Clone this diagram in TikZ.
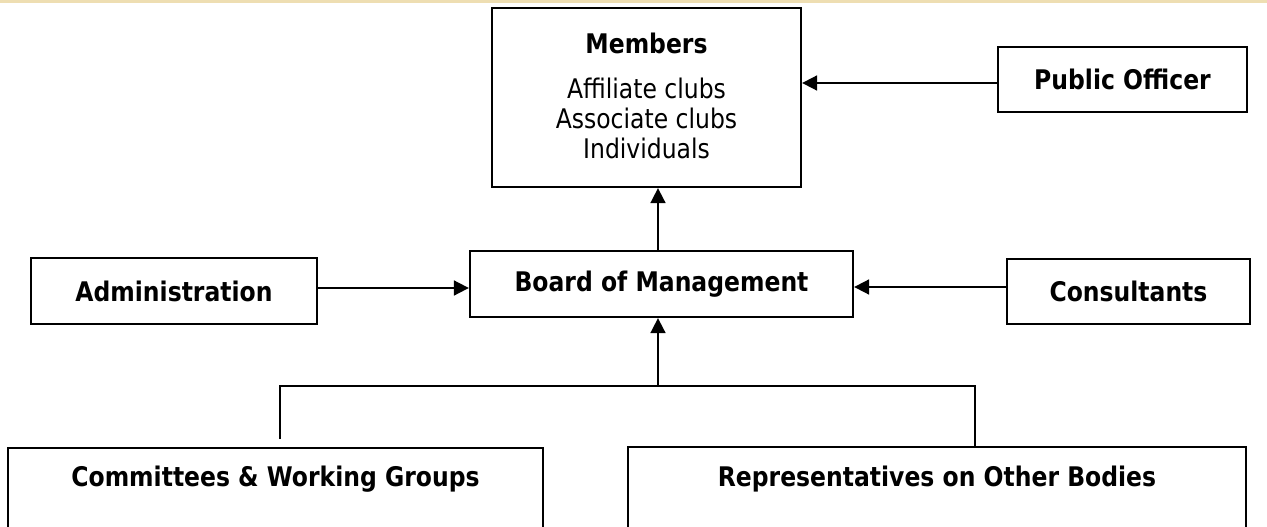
\documentclass[tikz,border=0pt]{standalone}
\usepackage{fontspec}
\setmainfont{DejaVu Sans}[FakeStretch=0.87]
\usetikzlibrary{arrows.meta}
\definecolor{topline}{RGB}{238,222,178}
\tikzset{
  box/.style={draw=black, line width=2.3pt, fill=white, inner sep=0pt, align=center,
    font=\fontsize{27pt}{30pt}\selectfont},
  bbox/.style={box, font=\fontsize{27pt}{30pt}\selectfont\bfseries},
  lbl/.style={inner sep=0pt, align=center, font=\fontsize{27pt}{30pt}\selectfont\bfseries},
  conn/.style={draw=black, line width=1.8pt},
  arr/.style={conn, -{Triangle[length=15pt,width=15pt]}}
}
\begin{document}
\begin{tikzpicture}[x=1pt,y=-1pt]
\useasboundingbox (0,0) rectangle (1267,527);
\clip (0,0) rectangle (1267,527);
\fill[topline] (0,0) rectangle (1267,3);
% boxes
\node[box, minimum width=309pt, minimum height=179pt] (mem) at (646.5,97.5) {};
\node[lbl] (memt) at (646.5,43) {Members};
\node[inner sep=0pt, align=center, font=\fontsize{27pt}{30pt}\selectfont] (meml) at (646.5,118)
  {Affiliate clubs\\Associate clubs\\Individuals};
\node[bbox, minimum width=249pt, minimum height=65pt] (pub) at (1122.5,79.5) {Public Officer};
\node[bbox, minimum width=286pt, minimum height=66pt] (adm) at (174,291) {Administration};
\node[bbox, minimum width=383pt, minimum height=66pt] (board) at (661.5,284) {Board of Management};
\node[bbox, minimum width=243pt, minimum height=65pt] (cons) at (1128.5,291.5) {Consultants};
\node[box, minimum width=535pt, minimum height=120pt] (comm) at (275.5,508) {};
\node[lbl] (commt) at (275.5,479) {Committees \& Working Groups};
\node[box, minimum width=618pt, minimum height=120pt] (rep) at (937,507) {};
\node[lbl] (rept) at (937,479) {Representatives on Other Bodies};
% junction coordinates
\coordinate (jc) at (658,386);
\coordinate (jl) at (280,386);
\coordinate (jr) at (975,386);
\coordinate (cl) at (280,439);
% connectors
\draw[arr] (pub.west |- 0,83) -- (mem.east |- 0,83);
\draw[arr] (adm.east |- 0,288) -- (board.west |- 0,288);
\draw[arr] (cons.west |- 0,287) -- (board.east |- 0,287);
\draw[arr] (board.north -| jc) -- (mem.south -| jc);
\draw[conn] (cl) -- (jl) -- (jr) -- (rep.north -| jr);
\draw[arr] (jc) -- (board.south -| jc);
\end{tikzpicture}
\end{document}
